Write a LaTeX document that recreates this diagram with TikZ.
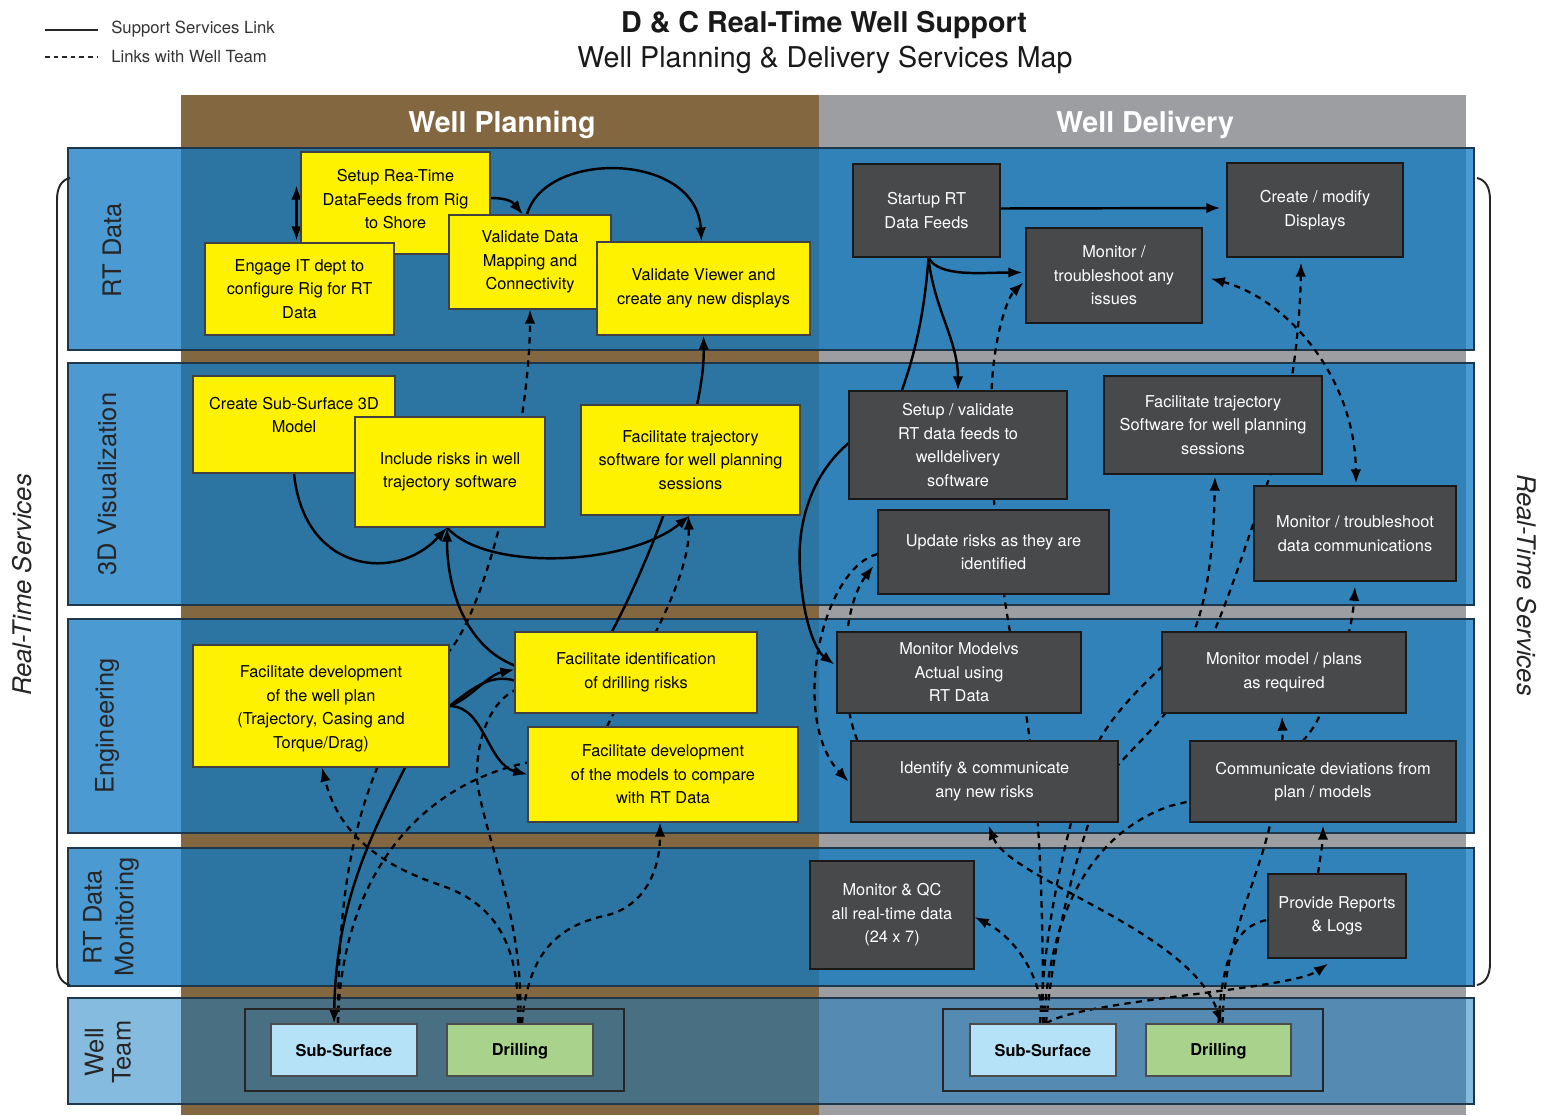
\documentclass[tikz,border=0pt]{standalone}
\usepackage{fontspec}
\setmainfont{TeX Gyre Heros}
\usetikzlibrary{arrows.meta,calc,fit}

\pgfdeclarelayer{bg}
\pgfdeclarelayer{links}
\pgfsetlayers{bg,links,main}

\definecolor{planbrown}{HTML}{836741}
\definecolor{delgray}{HTML}{9D9EA2}
\definecolor{laneblue}{RGB}{15,121,195}
\definecolor{laneedge}{RGB}{30,55,75}
\definecolor{taskyellow}{HTML}{FFF200}
\definecolor{taskdark}{HTML}{48494B}
\definecolor{subsurf}{HTML}{B5E2F6}
\definecolor{drillgreen}{HTML}{A9D38D}

\newcommand\taskfont{\fontsize{9.3}{13.4}\selectfont}
\newcommand\lanefont{\fontsize{14.5}{17}\selectfont}
\newcommand\headfont{\fontsize{16.3}{19}\selectfont}

\tikzset{
  lane/.style={fill=laneblue, fill opacity=0.75, draw=laneedge, line width=0.6pt},
  teamlane/.style={fill=laneblue, fill opacity=0.5, draw=laneedge, line width=0.6pt},
  plantask/.style={draw=black!75, line width=0.6pt, fill=taskyellow, inner sep=0pt},
  deltask/.style={draw=black!90, line width=0.7pt, fill=taskdark, inner sep=0pt},
  ptext/.style={align=center, font=\taskfont, text=black, inner sep=0pt},
  dtext/.style={align=center, font=\taskfont, text=white, inner sep=0pt},
  teambox/.style={draw=black!70, line width=0.6pt, inner sep=0pt},
  ttext/.style={font=\taskfont\bfseries, text=black, inner sep=0pt, yshift=-0.4pt},
  teamframe/.style={draw=black!85, line width=0.8pt, inner sep=0pt},
  lanelabel/.style={rotate=90, font=\lanefont, align=center, text=black!85},
  support/.style={draw=black, line width=1.4pt},
  welllink/.style={draw=black, line width=1.3pt, dash pattern=on 3.6pt off 3pt},
}

\begin{document}
\begin{tikzpicture}[x=0.02cm, y=-0.02cm, >={Latex[length=8pt,width=6pt]}]
\useasboundingbox (0,0) rectangle (1544,1115);

\begin{pgfonlayer}{bg}
  \fill[white] (0,0) rectangle (1544,1115);
  % the two phase columns
  \fill[planbrown] (181,95) rectangle (819,1115);
  \fill[delgray] (819,95) rectangle (1466,1115);
  % service lanes
  \path[lane] (68,148) rectangle (1474,350);
  \path[lane] (68,363) rectangle (1474,605);
  \path[lane] (68,619) rectangle (1474,833);
  \path[lane] (68,848) rectangle (1474,986);
  \path[teamlane] (68,998) rectangle (1474,1104);
\end{pgfonlayer}

% titles and column headers
\node[font=\headfont\bfseries, text=black!90] (title) at (824,25) {D \& C Real-Time Well Support};
\node[font=\headfont, text=black!90] (subtitle) at (825,60) {Well Planning \& Delivery Services Map};
\node[font=\headfont\bfseries, text=white] (hplan) at (502,125) {Well Planning};
\node[font=\headfont\bfseries, text=white] (hdel) at (1145,125) {Well Delivery};

% legend
\coordinate (legA1) at (45,30);
\coordinate (legA2) at (98,30);
\coordinate (legB1) at (45,57);
\coordinate (legB2) at (98,57);
\draw[line width=1.6pt, black!85] (legA1) -- (legA2);
\draw[line width=1.6pt, black!85, dash pattern=on 2.6pt off 2.3pt] (legB1) -- (legB2);
\node[anchor=west, inner sep=0pt, font=\fontsize{9.5}{11}\selectfont, text=black!80] (legAt) at (111,29) {Support Services Link};
\node[anchor=west, inner sep=0pt, font=\fontsize{9.5}{11}\selectfont, text=black!80] (legBt) at (111,57) {Links with Well Team};

% brackets grouping the real-time lanes
\draw[line width=1.1pt, black!85] (70,178) .. controls (61,180) and (57,188) .. (57,200)
  -- (57,963) .. controls (57,975) and (61,983) .. (70,985);
\draw[line width=1.1pt, black!85] (1477,178) .. controls (1486,180) and (1490,188) .. (1490,200)
  -- (1490,963) .. controls (1490,975) and (1486,983) .. (1477,985);
\node[rotate=90, font=\fontsize{14.6}{17}\selectfont\itshape, text=black!85] (rtsl) at (22,585) {Real-Time Services};
\node[rotate=-90, font=\fontsize{14.6}{17}\selectfont\itshape, text=black!85] (rtsr) at (1527,585) {Real-Time Services};

% lane labels
\node[lanelabel] (lab1) at (112,250) {RT Data};
\node[lanelabel] (lab2) at (107,484) {3D Visualization};
\node[lanelabel] (lab3) at (107,726) {Engineering};
\node[lanelabel, font=\fontsize{14.5}{18}\selectfont] (lab4) at (111,917) {RT Data\\Monitoring};
\node[lanelabel, font=\fontsize{14.5}{15.5}\selectfont] (lab5) at (108,1052) {Well\\Team};

% ---------------- Well Planning tasks ----------------
\node[plantask, fit={(301,152) (490,254)}, label={[ptext, yshift=2.2pt]center:{Setup Rea-Time\\DataFeeds from Rig\\to Shore}}] (p1) {};
\node[plantask, fit={(205,243) (394,335)}, label={[ptext]center:{Engage IT dept to\\configure Rig for RT\\Data}}] (p2) {};
\node[plantask, fit={(449,215) (611,309)}, label={[ptext]center:{Validate Data\\Mapping and\\Connectivity}}] (p3) {};
\node[plantask, fit={(597,242) (810,335)}, label={[ptext]center:{Validate Viewer and\\create any new displays}}] (p4) {};
\node[plantask, fit={(193,376) (395,473)}, label={[ptext, yshift=5.5pt]center:{Create Sub-Surface 3D\\Model}}] (p5) {};
\node[plantask, fit={(355,417) (545,527)}, label={[ptext]center:{Include risks in well\\trajectory software}}] (p6) {};
\node[plantask, fit={(581,405) (800,515)}, label={[ptext]center:{Facilitate trajectory\\software for well planning\\sessions}}] (p7) {};
\node[plantask, fit={(193,645) (449,767)}, label={[ptext, yshift=-1.5pt]center:{Facilitate development\\of the well plan\\(Trajectory, Casing and\\Torque/Drag)}}] (p8) {};
\node[plantask, fit={(515,632) (757,713)}, label={[ptext]center:{Facilitate identification\\of drilling risks}}] (p9) {};
\node[plantask, fit={(528,727) (798,822)}, label={[ptext]center:{Facilitate development\\of the models to compare\\with RT Data}}] (p10) {};

% ---------------- Well Delivery tasks ----------------
\node[deltask, fit={(853,164) (1000,257)}, label={[dtext]center:{Startup RT\\Data Feeds}}] (d1) {};
\node[deltask, fit={(1026,228) (1202,323)}, label={[dtext]center:{Monitor /\\troubleshoot any\\issues}}] (d2) {};
\node[deltask, fit={(1227,163) (1403,257)}, label={[dtext]center:{Create / modify\\Displays}}] (d3) {};
\node[deltask, fit={(849,391) (1067,499)}, label={[dtext]center:{Setup / validate\\RT data feeds to\\welldelivery\\software}}] (d4) {};
\node[deltask, fit={(1104,376) (1322,474)}, label={[dtext]center:{Facilitate trajectory\\Software for well planning\\sessions}}] (d5) {};
\node[deltask, fit={(1254,486) (1456,581)}, label={[dtext]center:{Monitor / troubleshoot\\data communications}}] (d6) {};
\node[deltask, fit={(878,510) (1109,594)}, label={[dtext]center:{Update risks as they are\\identified}}] (d7) {};
\node[deltask, fit={(837,632) (1081,713)}, label={[dtext]center:{Monitor Modelvs\\Actual using\\RT Data}}] (d8) {};
\node[deltask, fit={(1162,632) (1406,713)}, label={[dtext]center:{Monitor model / plans\\as required}}] (d9) {};
\node[deltask, fit={(851,741) (1118,822)}, label={[dtext]center:{Identify \& communicate\\any new risks}}] (d10) {};
\node[deltask, fit={(1190,741) (1456,822)}, label={[dtext]center:{Communicate deviations from\\plan / models}}] (d11) {};
\node[deltask, fit={(810,861) (974,969)}, label={[dtext]center:{Monitor \& QC\\all real-time data\\(24 x 7)}}] (d12) {};
\node[deltask, fit={(1268,874) (1406,958)}, label={[dtext]center:{Provide Reports\\\& Logs}}] (d13) {};

% ---------------- Well teams ----------------
\node[teamframe, fit={(245,1009) (624,1091)}] (pteam) {};
\node[teambox, fill=subsurf, fit={(271,1024) (417,1076)}, label={[ttext]center:Sub-Surface}] (pss) {};
\node[teambox, fill=drillgreen, fit={(447,1024) (593,1076)}, label={[ttext]center:Drilling}] (pdr) {};
\node[teamframe, fit={(943,1009) (1323,1091)}] (dteam) {};
\node[teambox, fill=subsurf, fit={(970,1024) (1116,1076)}, label={[ttext]center:Sub-Surface}] (dss) {};
\node[teambox, fill=drillgreen, fit={(1146,1024) (1291,1076)}, label={[ttext]center:Drilling}] (ddr) {};

\begin{pgfonlayer}{links}
  % ----- planning: support services links -----
  \draw[support,<->] ($(p1.north west)+(-4,34)$) -- ($(p2.north west)+(92,-2)$);
  \draw[support,->] ($(p1.east)+(0,-5)$) .. controls +(18,0) and +(-10,-12) .. ($(p3.north)+(-7,0)$);
  \draw[support,->] ($(p3.north)+(-3,0)$) .. controls +(18,-65) and +(-5,-90) .. ($(p4.north)+(-2,0)$);
  \draw[support,->] ($(p9.north)+(-24,0)$) .. controls (650,560) and (705,420) .. (p4.south);
  \draw[support,->] (p5.south) .. controls +(10,100) and +(-50,55) .. ($(p6.south)+(-3,0)$);
  \draw[support,->] ($(p6.south)+(-3,0)$) .. controls +(40,45) and +(-60,50) .. ($(p7.south)+(-1,0)$);
  \draw[support,->] ($(p9.west)+(0,-7)$) .. controls +(-50,-20) and +(0,60) .. ($(p6.south)+(-3,0)$);
  \draw[support,->] (p8.east) .. controls +(22,-8) and +(-28,6) .. ($(p9.west)+(0,-3)$);
  \draw[support] (p8.east) .. controls +(28,-22) and +(-22,-6) .. ($(p9.west)+(0,8)$);
  \draw[support,->] (p8.east) .. controls +(35,0) and +(-40,-10) .. (p10.west);
  \draw[support,->] ($(p8.south)+(84,0)$) .. controls +(-35,70) and +(2,-120) .. ($(pss.north)+(-10,0)$);

  % ----- planning: links with the well team -----
  \draw[welllink,->] ($(pss.north)+(-6,0)$) .. controls (338,880) and (355,760) .. ($(p8.north east)+(1,5)$)
     .. controls (490,600) and (530,420) .. (p3.south);
  \draw[welllink,->] ($(pdr.north)+(-2,0)$) .. controls (520,950) and (500,905) .. (440,885)
     .. controls (390,868) and (340,840) .. ($(p8.south)+(1,0)$);
  \draw[welllink] (pdr.north) .. controls (525,920) and (485,840) .. (477,780)
     .. controls (476,730) and (495,700) .. ($(p9.west)+(0,18)$);
  \draw[welllink,->] ($(pdr.north)+(2,0)$) .. controls (528,950) and (560,925) .. (608,915)
     .. controls (645,905) and (660,870) .. ($(p10.south)+(-3,0)$);
  \draw[welllink] ($(pss.north)+(-6,0)$) .. controls (340,900) and (400,790) .. ($(p10.west)+(0,-12)$);
  \draw[welllink,->] ($(p10.north)+(-56,0)$) .. controls (640,660) and (690,580) .. ($(p7.south)+(-2,0)$);

  % ----- delivery: support services links -----
  \draw[support,->] ($(d1.east)+(0,-2)$) -- ($(d3.west)+(-6,-2)$);
  \draw[support,->] ($(d1.south)+(2,0)$) .. controls +(10,20) and +(-40,0) .. ($(d2.west)+(-3,-3)$);
  \draw[support,->] ($(d1.south)+(2,0)$) .. controls +(5,50) and +(0,-50) .. (d4.north);
  \draw[support,->] ($(d1.south)+(2,0)$) .. controls (924,320) and (912,370) .. (890,420)
     .. controls (830,440) and (795,500) .. (800,570)
     .. controls (803,620) and (815,650) .. ($(d8.west)+(-2,-8)$);

  % ----- delivery: links with the well team -----
  \draw[welllink,->] (dss.north) .. controls (1043,900) and (1040,780) .. (1020,680)
     .. controls (1000,600) and (985,450) .. (993,370)
     .. controls (998,320) and (1010,295) .. ($(d2.west)+(-2,7)$);
  \draw[welllink,->] ($(dss.north)+(3,0)$) .. controls (1055,930) and (1075,860) .. (1100,790)
     .. controls (1120,755) and (1150,740) .. (1190,680)
     .. controls (1220,630) and (1240,560) .. (1265,490)
     .. controls (1290,420) and (1300,330) .. ($(d3.south)+(-14,5)$);
  \draw[welllink,->] ($(dss.north)+(-3,0)$) .. controls (1045,930) and (1060,860) .. (1080,790)
     .. controls (1095,720) and (1150,680) .. (1190,640)
     .. controls (1210,600) and (1214,530) .. ($(d5.south)+(2,2)$);
  \draw[welllink,->] ($(d7.west)+(0,2)$) .. controls (820,570) and (790,720) .. ($(d10.west)+(-2,0)$);
  \draw[welllink,->] ($(d10.north west)+(7,0)$) .. controls (840,700) and (840,610) .. ($(d7.west)+(-4,14)$);
  \draw[welllink,<->] ($(d10.south)+(4,3)$) .. controls (1010,880) and (1190,930) .. ($(ddr.north)+(3,0)$);
  \draw[welllink,->] (dss.north) .. controls (1042,970) and (1010,935) .. ($(d12.east)+(0,2)$);
  \draw[welllink] (ddr.north) .. controls (1222,960) and (1235,925) .. ($(d13.west)+(0,4)$);
  \draw[welllink,->] ($(ddr.north)+(4,0)$) .. controls (1224,930) and (1262,880) .. (1275,800)
     .. controls (1280,770) and (1283,740) .. ($(d9.south)+(-2,3)$);
  \draw[welllink,->] ($(d13.north)+(-19,0)$) .. controls +(2,-15) and +(0,15) .. ($(d11.south)+(0,3)$);
  \draw[welllink,->] ($(dss.north)+(3,0)$) .. controls (1080,1000) and (1290,990) .. ($(d13.south)+(-9,5)$);
  \draw[welllink,->] ($(dss.north)+(1,0)$) .. controls (1050,900) and (1100,830) .. (1170,806)
     .. controls (1240,790) and (1300,760) .. (1320,715)
     .. controls (1340,670) and (1352,630) .. ($(d6.south)+(0,5)$);
  \draw[welllink,<->] ($(d2.east)+(8,3)$) .. controls (1290,300) and (1355,380) .. ($(d6.north)+(1,-2)$);
\end{pgfonlayer}
\end{tikzpicture}
\end{document}
